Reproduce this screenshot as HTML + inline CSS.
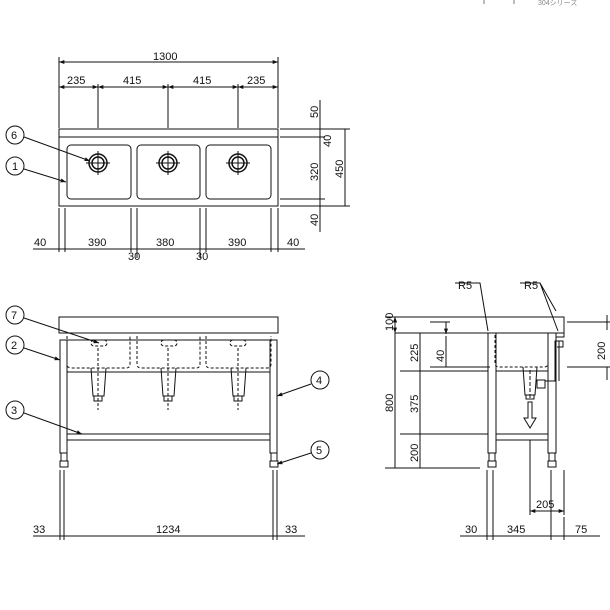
<!DOCTYPE html>
<html><head><meta charset="utf-8"><style>body{margin:0;background:#fff}svg{display:block}text{font-family:"Liberation Sans","Noto Sans CJK JP",sans-serif;font-size:11px;fill:#111}</style></head><body>
<svg width="610" height="610" viewBox="0 0 610 610" xmlns="http://www.w3.org/2000/svg">
<defs><marker id="a" viewBox="0 0 8 6" refX="8" refY="3" markerWidth="6" markerHeight="4" orient="auto-start-reverse"><path d="M0,0L8,3L0,6z" fill="#111"/></marker></defs>
<g stroke="#111" stroke-width="1" fill="none">
<!-- header fragment -->
<line x1="484" y1="0" x2="484" y2="4" stroke="#777"/><line x1="514" y1="0" x2="514" y2="4" stroke="#777"/>
<!-- TOP VIEW -->
<rect x="59" y="129" width="219" height="77"/><line x1="59" y1="137" x2="278" y2="137"/>
<rect x="67" y="145" width="64" height="54" rx="4"/><rect x="137" y="145" width="63" height="54" rx="4"/><rect x="206" y="145" width="65" height="54" rx="4"/>
<g stroke-width="1.5"><circle cx="98" cy="163" r="9"/><circle cx="98" cy="163" r="6"/><circle cx="168" cy="163" r="9"/><circle cx="168" cy="163" r="6"/><circle cx="238" cy="163" r="9"/><circle cx="238" cy="163" r="6"/></g>
<path d="M86 163h24M98 151v24M156 163h24M168 151v24M226 163h24M238 151v24"/>
<!-- top dims -->
<path d="M59 57v71M278 57v71M98 84v44M168 84v44M238 84v44"/>
<line x1="59" y1="62" x2="278" y2="62" marker-start="url(#a)" marker-end="url(#a)"/>
<line x1="59" y1="87" x2="98" y2="87" marker-start="url(#a)" marker-end="url(#a)"/>
<line x1="98" y1="87" x2="168" y2="87" marker-start="url(#a)" marker-end="url(#a)"/>
<line x1="168" y1="87" x2="238" y2="87" marker-start="url(#a)" marker-end="url(#a)"/>
<line x1="238" y1="87" x2="278" y2="87" marker-start="url(#a)" marker-end="url(#a)"/>
<path d="M280 129h70M280 137h45M280 199h45M280 206h70"/>
<line x1="320" y1="100" x2="320" y2="232"/>
<path d="M345 129v77"/>
<path d="M59 208v44M65 208v44M131 208v44M137 208v50M200 208v50M206 208v44M271 208v44M278 208v44"/>
<line x1="33" y1="249" x2="305" y2="249"/>
<!-- callouts top -->
<circle cx="15" cy="135" r="9"/><line x1="24" y1="137" x2="90" y2="161" marker-end="url(#a)"/>
<circle cx="15" cy="166" r="9"/><line x1="24" y1="169" x2="66" y2="182" marker-end="url(#a)"/>
<!-- FRONT VIEW -->
<rect x="59" y="317" width="219" height="16"/><line x1="59" y1="333" x2="278" y2="333"/><line x1="60" y1="340" x2="277" y2="340"/>
<rect x="60" y="340" width="7" height="113"/><rect x="270" y="340" width="7" height="113"/>
<path d="M67 372h203M67 434h203M67 440h203"/>
<g stroke-dasharray="3,2"><path d="M67 336v28q0 4 4 4h55q4 0 4-4v-28M137 336v28q0 4 4 4h55q4 0 4-4v-28M206 336v28q0 4 4 4h57q4 0 4-4v-28"/>
<rect x="91" y="340" width="16" height="6" rx="3"/><rect x="161" y="340" width="16" height="6" rx="3"/><rect x="230" y="340" width="16" height="6" rx="3"/>
<path d="M98 348v62M168 348v62M238 348v62"/></g>
<path d="M91 368l2 28h11l2-28M94 396v5h8v-5M161 368l2 28h11l2-28M164 396v5h8v-5M231 368l2 28h11l2-28M234 396v5h8v-5"/>
<path d="M61 453v8h6v-8M60 461h8v6h-8zM271 453v8h6v-8M270 461h8v6h-8z"/>
<path d="M60 470v70M64 470v70M273 470v70M277 470v70"/>
<line x1="33" y1="536" x2="305" y2="536"/>
<circle cx="15" cy="315" r="9"/><line x1="24" y1="318" x2="99" y2="343" marker-end="url(#a)"/>
<circle cx="15" cy="345" r="9"/><line x1="24" y1="348" x2="60" y2="360" marker-end="url(#a)"/>
<circle cx="15" cy="410" r="9"/><line x1="24" y1="413" x2="82" y2="434" marker-end="url(#a)"/>
<circle cx="320" cy="380" r="9"/><line x1="311" y1="384" x2="277" y2="396" marker-end="url(#a)"/>
<circle cx="320" cy="450" r="9"/><line x1="311" y1="453" x2="277" y2="464" marker-end="url(#a)"/>
<!-- SIDE VIEW -->
<path d="M395 317h169v20h-8M395 333h93M556 333h8"/>
<rect x="488" y="333" width="8" height="120"/><rect x="548" y="333" width="8" height="120"/>
<path d="M496 371h52M496 434h52M496 440h52"/>
<path d="M496 333v0M488 333h68" />
<path d="M495 335v28q0 4 4 4h45q4 0 4-4v-28" stroke-dasharray="3,2"/>
<path d="M523 367l2 28h10l2-28M526 395v4h8v-4"/>
<path d="M530 370v30" stroke-dasharray="4,2"/>
<path d="M528 402v16h-4l6 10 6-10h-4v-16z"/>
<path d="M537 380h8v8h-8zM545 381h10v-40h4v40M557 341h6v6h-6"/>
<path d="M489 453v8h6v-8M488 461h8v6h-8zM549 453v8h6v-8M548 461h8v6h-8z"/>
<!-- side dims -->
<path d="M385 317h10M385 468h95M400 371h88M400 434h88M430 322h20M430 367h60M567 322h45M567 367h45"/>
<line x1="395" y1="317" x2="395" y2="468" marker-start="url(#a)"/>
<line x1="395" y1="317" x2="395" y2="333" marker-start="url(#a)" marker-end="url(#a)"/>
<line x1="420" y1="333" x2="420" y2="468" />
<line x1="446" y1="322" x2="446" y2="334" marker-end="url(#a)"/>
<line x1="446" y1="336" x2="446" y2="367"/>
<line x1="607" y1="315" x2="607" y2="330"/><line x1="607" y1="367" x2="607" y2="380"/>
<path d="M487 470v70M493 470v70M551 470v70M564 470v45M530 440v75M564 517v23"/>
<line x1="530" y1="511" x2="564" y2="511" marker-start="url(#a)" marker-end="url(#a)"/>
<line x1="460" y1="536" x2="600" y2="536"/>
<path d="M455 283h25l8 48M520 283h20l18 48M540 283l16 28" />
</g>
<g>
<text x="153" y="60">1300</text>
<text x="67" y="84">235</text><text x="123" y="84">415</text><text x="193" y="84">415</text><text x="247" y="84">235</text>
<text x="34" y="246">40</text><text x="88" y="246">390</text><text x="156" y="246">380</text><text x="228" y="246">390</text><text x="287" y="246">40</text>
<text x="128" y="260">30</text><text x="196" y="260">30</text>
<text transform="translate(318,118) rotate(-90)">50</text><text transform="translate(331,147) rotate(-90)">40</text><text transform="translate(318,181) rotate(-90)">320</text><text transform="translate(318,226) rotate(-90)">40</text><text transform="translate(343,178) rotate(-90)">450</text>
<text x="11" y="139">6</text><text x="12" y="170">1</text><text x="11" y="319">7</text><text x="11" y="349">2</text><text x="11" y="414">3</text><text x="316" y="384">4</text><text x="316" y="454">5</text>
<text x="33" y="533">33</text><text x="156" y="533">1234</text><text x="285" y="533">33</text>
<text x="458" y="289">R5</text><text x="524" y="289">R5</text>
<text transform="translate(393,331) rotate(-90)">100</text><text transform="translate(393,412) rotate(-90)">800</text>
<text transform="translate(418,362) rotate(-90)">225</text><text transform="translate(418,413) rotate(-90)">375</text><text transform="translate(418,462) rotate(-90)">200</text>
<text transform="translate(444,362) rotate(-90)">40</text><text transform="translate(605,360) rotate(-90)">200</text>
<text x="536" y="508">205</text><text x="465" y="533">30</text><text x="507" y="533">345</text><text x="575" y="533">75</text>
<text x="538" y="5" style="font-size:7px;fill:#888">304シリーズ</text>
</g>
</svg>
</body></html>
